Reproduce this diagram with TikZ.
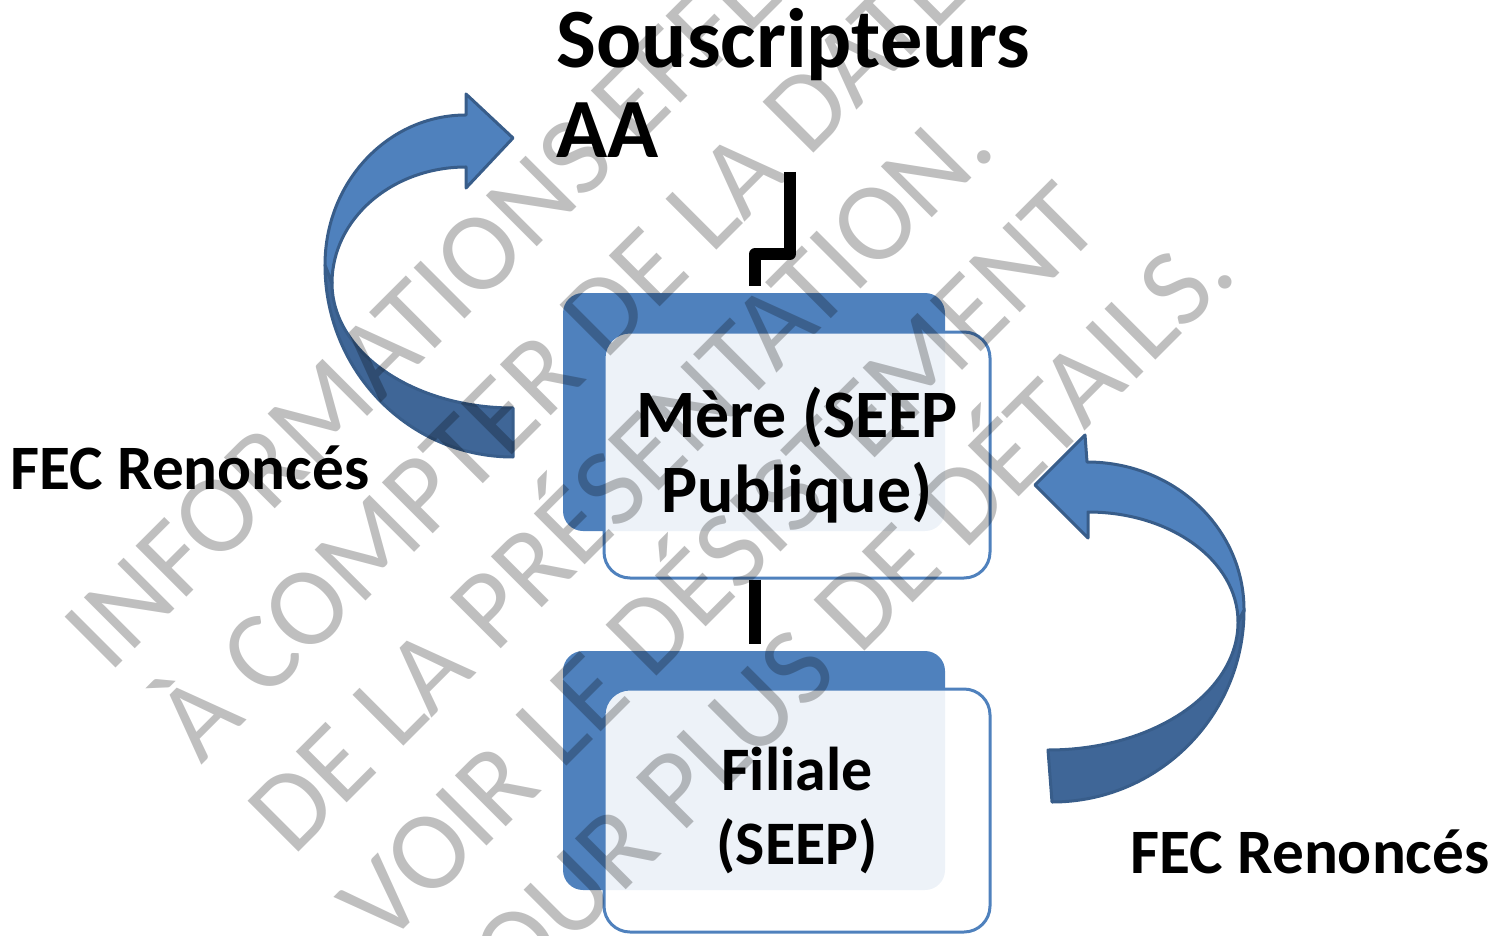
\documentclass[tikz,border=0pt]{standalone}
\usepackage{fontspec}
\setmainfont{Carlito}
\definecolor{accent}{RGB}{79,129,189}
\definecolor{edge}{RGB}{56,93,138}
\definecolor{shade}{RGB}{63,102,151}
\begin{document}
\begin{tikzpicture}[x=0.1mm, y=-0.1mm,
  backbox/.style={fill=accent, rounded corners=2mm, inner sep=0, minimum width=38.2mm, minimum height=23.8mm},
  frontbox/.style={draw=accent, line width=0.3mm, fill=white, fill opacity=0.9, text opacity=1, rounded corners=2.6mm, inner sep=0, minimum width=38.6mm, align=center},
  conn/.style={line width=1.2mm, line join=round},
  ribbon/.style={draw=edge, line width=0.3mm, line join=round},
  label/.style={font=\bfseries\fontsize{18pt}{21pt}\selectfont, anchor=base west, inner sep=0},
  title/.style={font=\bfseries\fontsize{24pt}{26pt}\selectfont, anchor=base west, inner sep=0},
  wm/.style={font=\fontsize{31.9pt}{38pt}\selectfont, text=black, text opacity=0.25, rotate=45, anchor=base west, inner sep=0}]
\useasboundingbox (0,0) rectangle (1495,935);

% titles
\node[title] (sousc) at (556,68) {Souscripteurs};
\node[title] (aa) at (556,158) {AA};

% boxes
\node[backbox] (mereback) at (754,412) {};
\node[frontbox, minimum height=24.6mm, font=\bfseries\fontsize{19.3pt}{21.3pt}\selectfont] (mere) at (797,455) {Mère (SEEP\\Publique)};
\node[backbox, minimum height=23.9mm] (filback) at (754,770.5) {};
\node[frontbox, minimum height=24.3mm, font=\bfseries\fontsize{17.6pt}{20.8pt}\selectfont] (filiale) at (797,810.5) {Filiale\\(SEEP)};

% connectors
\coordinate (ctop) at (790,172);
\coordinate (cmid) at (755,254);
\draw[conn, shorten >=0.6mm] (ctop) |- (cmid) -- (cmid |- mereback.north);
\draw[conn, shorten >=0.6mm] (cmid |- mere.south) -- (cmid |- filback.north);

% left curved arrow
\path[ribbon, fill=shade] (325,265) .. controls (325,371) and (409,457) .. (513,457) -- (513,408) .. controls (413,408) and (332,352) .. (332,283) -- cycle;
\path[ribbon, fill=accent] (325,265) .. controls (325,182) and (388,115) .. (466,115) -- (466,94) -- (513,138) -- (466,188) -- (466,167) .. controls (392,167) and (332,219) .. (332,283) -- cycle;

% right curved arrow
\path[ribbon, fill=shade] (1244,610) .. controls (1244,716) and (1158,802) .. (1052,802) -- (1048,750) .. controls (1153,750) and (1238,693) .. (1238,622) -- cycle;
\path[ribbon, fill=accent] (1244,610) .. controls (1244,528) and (1174,462) .. (1087,462) -- (1085,435) -- (1035,485) -- (1088,538) -- (1088,512) .. controls (1171,512) and (1238,561) .. (1238,622) -- cycle;

% labels
\node[label] (fecl) at (10,489) {FEC Renoncés};
\node[label] (fecr) at (1130,873) {FEC Renoncés};

% watermark
\begin{scope}
\clip (0,0) rectangle (1495,935);
\node[wm] (wm1) at (109.5,674.5) {INFORMATIONS EFFECTIVES};
\node[wm] (wm2) at (201,766) {À COMPTER DE LA DATE};
\node[wm] (wm3) at (292.5,857.5) {DE LA PRÉSENTATION.};
\node[wm] (wm4) at (384,949) {VOIR LE DÉSISTEMENT};
\node[wm] (wm5) at (475.5,1040.5) {POUR PLUS DE DÉTAILS.};
\end{scope}
\end{tikzpicture}
\end{document}
